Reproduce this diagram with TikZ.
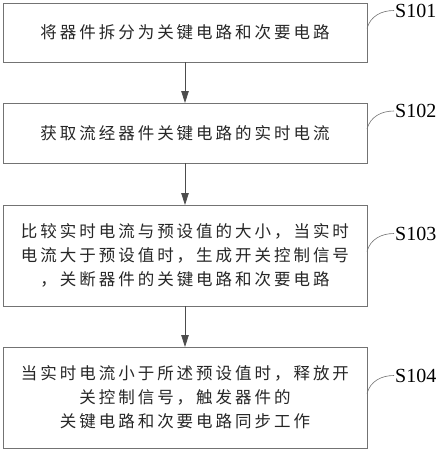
\documentclass[tikz,border=0pt]{standalone}
\usepackage{fontspec}
\setmainfont{Liberation Serif}
\newfontfamily\cjk{Noto Sans CJK SC}[LetterSpace=18]
\usetikzlibrary{arrows.meta,positioning,calc}

\begin{document}
\begin{tikzpicture}[
    stepbox/.style={draw=black!55,line width=0.8pt,outer sep=0pt,minimum width=364pt,
      minimum height=59pt,align=center,text=black!85,font=\cjk\fontsize{16.5}{24}\selectfont},
    tallbox/.style={stepbox,minimum height=101pt},
    tag/.style={anchor=west,inner sep=1pt,font=\fontsize{20}{22}\selectfont},
    leader/.style={draw=black!55,line width=0.6pt},
    flow/.style={draw=black!70,line width=0.8pt,-{Triangle[length=12pt,width=7.5pt]}},
    node distance=41pt
  ]
    \useasboundingbox (0,0) rectangle (441pt,-450pt);
    \node[stepbox] (s1) at (185pt,-32.5pt)
      {将器件拆分为关键电路和次要电路};
    \node[stepbox,minimum height=60pt,below=of s1] (s2)
      {获取流经器件关键电路的实时电流};
    \node[tallbox,below=42pt of s2] (s3)
      {比较实时电流与预设值的大小，当实时\\电流大于预设值时，生成开关控制信号\\，关断器件的关键电路和次要电路};
    \node[tallbox,below=of s3] (s4)
      {当实时电流小于所述预设值时，释放开\\关控制信号，触发器件的\\关键电路和次要电路同步工作};

    % step numbers
    \node[tag] (l1) at ($(s1.east)+(27pt,22pt)$) {S101};
    \node[tag] (l2) at ($(s2.east)+(27pt,22pt)$) {S102};
    \node[tag] (l3) at ($(s3.east)+(27pt,22pt)$) {S103};
    \node[tag] (l4) at ($(s4.east)+(27pt,22pt)$) {S104};
    \draw[leader] ($(s1.east)+(0,4pt)$) to[out=75,in=180] (l1.west);
    \draw[leader] ($(s2.east)+(0,4pt)$) to[out=75,in=180] (l2.west);
    \draw[leader] ($(s3.east)+(0,4pt)$) to[out=75,in=180] (l3.west);
    \draw[leader] ($(s4.east)+(0,4pt)$) to[out=75,in=180] (l4.west);

    \draw[flow] (s1) -- (s2);
    \draw[flow] (s2) -- (s3);
    \draw[flow] (s3) -- (s4);
  \end{tikzpicture}
\end{document}
